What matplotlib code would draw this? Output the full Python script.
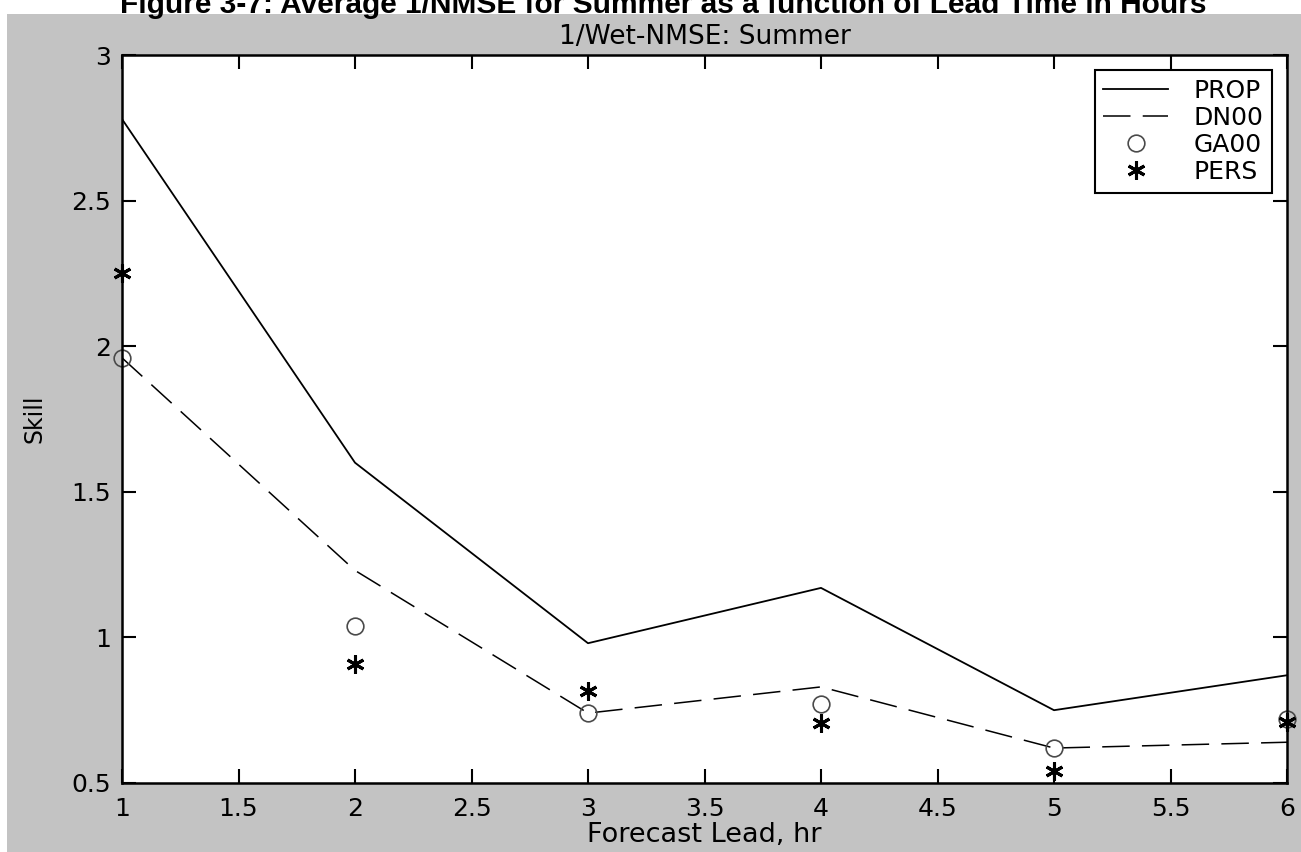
import matplotlib.pyplot as plt
from matplotlib.patches import Rectangle

# forecast lead (hours)
lead_hr = [1, 2, 3, 4, 5, 6]

# skill values
prop_skill = [2.78, 1.60, 0.98, 1.17, 0.75, 0.87]
dn00_skill = [1.96, 1.23, 0.74, 0.83, 0.62, 0.64]
ga00_skill = [1.96, 1.04, 0.74, 0.77, 0.62, 0.72]
pers_skill = [2.25, 0.91, 0.815, 0.705, 0.54, 0.71]

x_ticks = [1, 1.5, 2, 2.5, 3, 3.5, 4, 4.5, 5, 5.5, 6]
y_ticks = [0.5, 1, 1.5, 2, 2.5, 3]

page_c = "#ffffff"
scan_grey_c = "#c3c3c3"
ink_c = "#000000"
circle_c = "#4a4a4a"

W, H = 1301, 852
fig = plt.figure(figsize=(W / 100, H / 100), dpi=100)
fig.patch.set_facecolor(page_c)

# grey scanned plot background
fig.add_artist(Rectangle((7 / W, 0), 1 - 7 / W, 1 - 14 / H, transform=fig.transFigure,
                         facecolor=scan_grey_c, edgecolor="none", zorder=0))

# figure caption, cut off by the page top as in the scan
fig.text(120 / W, 1 - 13 / H,
         "Figure 3-7: Average 1/NMSE for Summer as a function of Lead Time in Hours",
         family="Liberation Sans", fontweight="bold", fontsize=21.5, ha="left", va="baseline",
         color=ink_c)

ax = fig.add_axes([122 / W, 1 - 783 / H, (1287 - 122) / W, (783 - 55) / H])
ax.set_facecolor("white")
ax.set_zorder(1)

ax.plot(lead_hr, prop_skill, color=ink_c, linewidth=1.3, label="PROP")
ax.plot(lead_hr, dn00_skill, color=ink_c, linewidth=1.1, linestyle=(0, (18, 8)), label="DN00")
ax.plot(lead_hr, ga00_skill, linestyle="none", marker="o", markersize=12,
        markerfacecolor="none", markeredgecolor=circle_c, markeredgewidth=1.2,
        clip_on=False, label="GA00")
ax.plot(lead_hr, pers_skill, linestyle="none", marker=(6, 2, 0), markersize=13,
        markeredgecolor=ink_c, markeredgewidth=2.2, clip_on=False, label="PERS")

ax.set_xlim(1, 6)
ax.set_ylim(0.5, 3)
ax.set_xticks(x_ticks)
ax.set_xticklabels([f"{t:g}" for t in x_ticks])
ax.set_yticks(y_ticks)
ax.set_yticklabels([f"{t:g}" for t in y_ticks])
ax.tick_params(direction="in", length=10, width=1.5, top=True, right=True,
               labelsize=18, colors=ink_c)
ax.tick_params(axis="x", pad=10)
ax.tick_params(axis="y", pad=8)
for sp in ax.spines.values():
    sp.set_linewidth(1.8)
    sp.set_color(ink_c)

ax.set_title("1/Wet-NMSE: Summer", fontsize=19, pad=8, color=ink_c)
ax.set_xlabel("Forecast Lead, hr", fontsize=19.5, labelpad=1, color=ink_c)
ax.set_ylabel("Skill", fontsize=17, labelpad=18, color=ink_c)

leg = ax.legend(loc="upper right", fontsize=18, frameon=True, fancybox=False,
                edgecolor=ink_c, framealpha=1, handlelength=2.6, handletextpad=1.0,
                labelspacing=0.12, borderpad=0.35, borderaxespad=0.6)
leg.get_frame().set_linewidth(1.5)

fig.savefig("out.png", dpi=100)
